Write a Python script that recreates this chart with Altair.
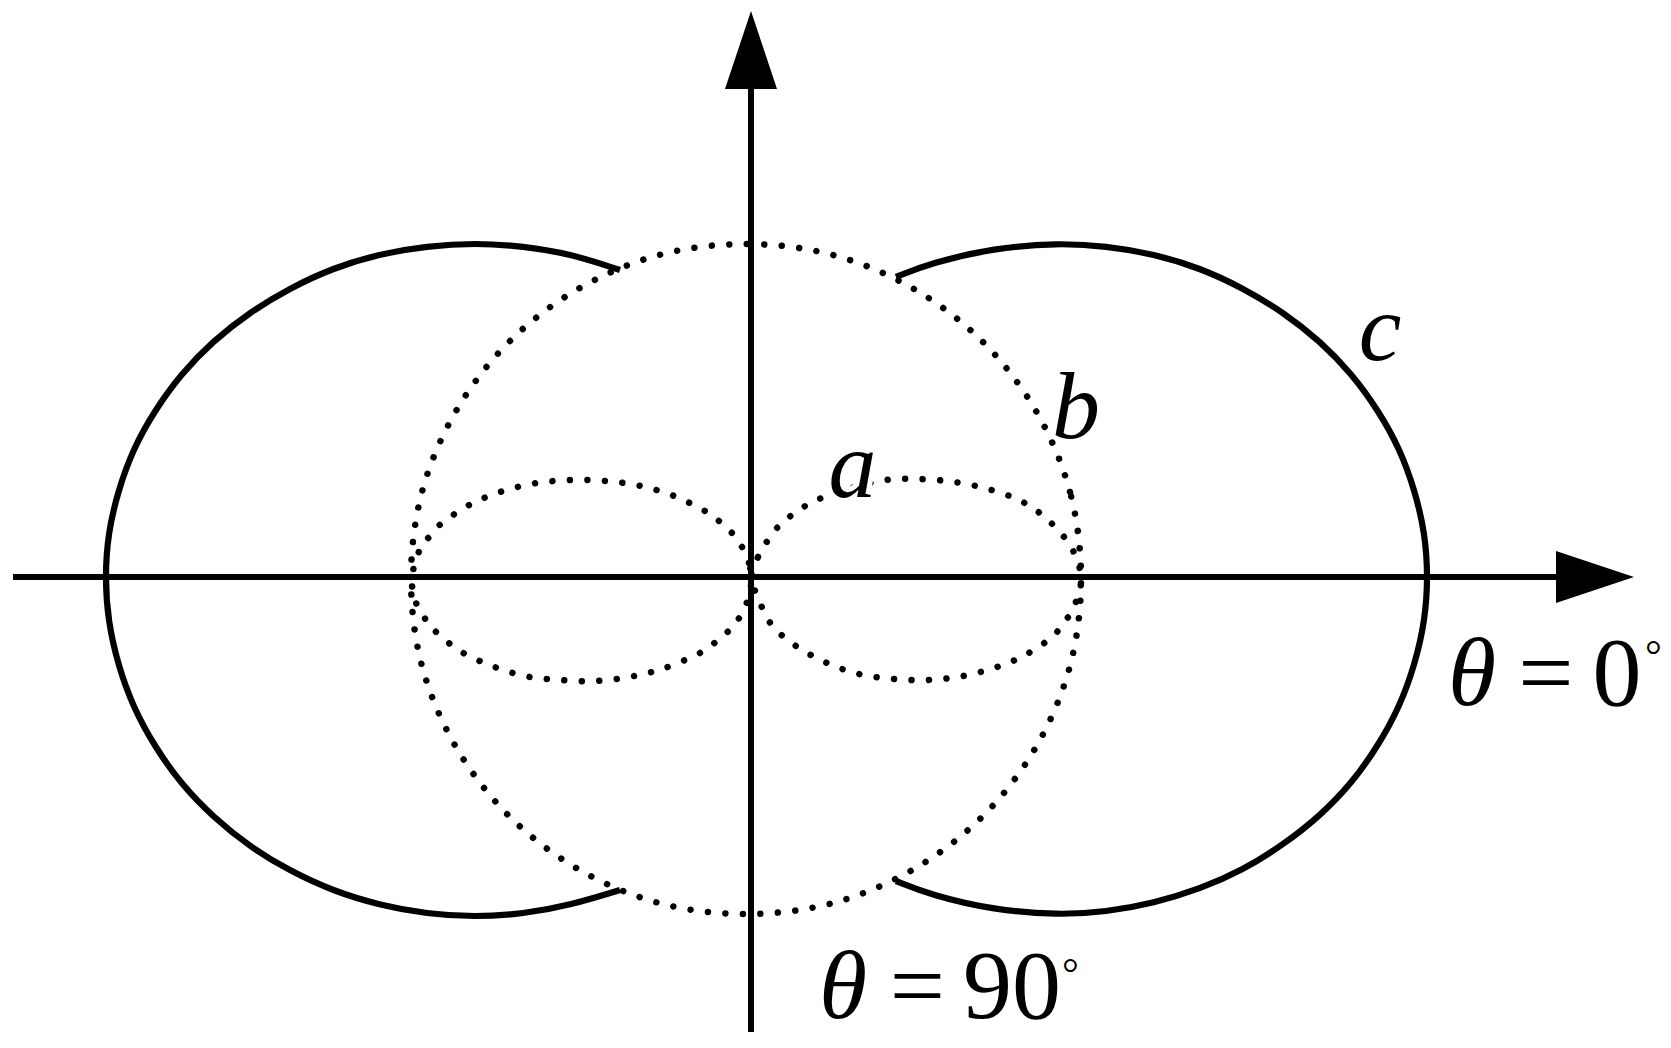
import altair as alt
import pandas as pd

# All coordinates: origin at the crossing of the two axes (pixel units of the figure)

# curve a : dotted figure-eight (two lobes)
a_left_x = [0, -2, -9, -19, -32, -46, -77, -110, -145, -179, -214, -248, -280, -309, -321, -331, -339,
            -336, -328, -318, -291, -259, -226, -192, -157, -122, -89, -57, -42, -28, -16, -7, -1]
a_left_y = [0, 14, 30, 44, 56, 66, 81, 91, 96, 97, 94, 86, 73, 54, 41, 28, 0,
            -23, -38, -52, -74, -89, -99, -103, -104, -100, -92, -79, -70, -59, -47, -32, -16]
a_right_x = [0, 7, 15, 25, 37, 51, 68, 100, 134, 168, 203, 237, 270, 297, 320, 330,
             324, 305, 276, 246, 212, 177, 143, 108, 76, 45, 20, 5]
a_right_y = [0, 20, 34, 48, 59, 69, 78, 89, 97, 98, 95, 88, 76, 57, 30, 0,
             -27, -56, -77, -90, -99, -103, -102, -97, -86, -69, -47, -16]

# curve b : dotted circle
b_x = [330, 319, 285, 232, 163, 82, -5, -92, -173, -242, -295, -329,
       -340, -329, -295, -242, -173, -92, -5, 82, 163, 232, 285, 319]
b_y = [-2, 85, 166, 235, 288, 322, 333, 322, 288, 235, 166, 85,
       -2, -89, -170, -239, -292, -326, -337, -326, -292, -239, -170, -89]

# curve c : solid lobes (outside the circle)
c_left_x = [-131, -180, -228, -276, -324, -372, -418, -461, -501, -538, -570, -596, -618, -633, -643, -646,
            -643, -633, -618, -596, -570, -538, -501, -461, -418, -372, -324, -276, -228, -180, -131]
c_left_y = [307, 323, 331, 334, 331, 323, 309, 289, 265, 236, 203, 167, 128, 86, 44, 0,
            -44, -88, -130, -170, -207, -240, -270, -294, -314, -328, -337, -340, -337, -328, -313]
c_right_x = [145, 180, 243, 307, 355, 403, 449, 492, 532, 569, 601, 627, 649, 664, 674, 677,
             674, 664, 649, 627, 601, 569, 532, 492, 449, 403, 355, 307, 243, 180, 145]
c_right_y = [300, 314, 329, 334, 331, 323, 309, 289, 265, 236, 203, 167, 128, 86, 44, 0,
             -44, -87, -129, -169, -206, -239, -268, -293, -312, -326, -335, -338, -333, -318, -304]

# axes
h_axis_x = [-738, 820]
v_axis_y = [-455, 500]
arrow_right_tip = (883, 0)
arrow_up_tip = (0, 566)

# labels
curve_labels = ["a", "b", "c"]
curve_label_x = [101.5, 325, 629]
curve_label_y = [80, 139, 217]

XS = alt.Scale(domain=[-743, 912], nice=False, zero=False)
YS = alt.Scale(domain=[-463, 569], nice=False, zero=False)


def enc(ch):
    return ch.encode(
        x=alt.X("x:Q", scale=XS, axis=None),
        y=alt.Y("y:Q", scale=YS, axis=None),
    )


def curve(xs, ys, dotted, interp, width=6):
    df = pd.DataFrame({"x": xs, "y": ys, "i": list(range(len(xs)))})
    kw = dict(interpolate=interp, color="black", strokeWidth=width)
    if dotted:
        kw.update(strokeDash=[0.01, 17.5], strokeCap="round")
    else:
        kw.update(strokeCap="butt", strokeJoin="round")
    return alt.Chart(df).mark_line(**kw).encode(
        x=alt.X("x:Q", scale=XS, axis=None),
        y=alt.Y("y:Q", scale=YS, axis=None),
        order="i:Q",
    )


layers = []
layers.append(curve(a_left_x, a_left_y, True, "cardinal-closed", 6.5))
layers.append(curve(a_right_x, a_right_y, True, "cardinal-closed", 6.5))
layers.append(curve(b_x, b_y, True, "cardinal-closed", 6.5))
layers.append(curve(c_left_x, c_left_y, False, "basis", 6.2))
layers.append(curve(c_right_x, c_right_y, False, "basis", 6.2))

# axes lines
layers.append(curve(h_axis_x, [0, 0], False, "linear"))
layers.append(curve([0, 0], v_axis_y, False, "linear"))

# arrow heads
arrow_r = pd.DataFrame({"x": [arrow_right_tip[0]], "y": [arrow_right_tip[1]]})
arrow_u = pd.DataFrame({"x": [arrow_up_tip[0]], "y": [arrow_up_tip[1]]})
layers.append(enc(alt.Chart(arrow_r).mark_point(
    shape="M 0 0 L -2 -0.667 L -2 0.667 Z", size=6084, filled=True, fill="black",
    stroke=None, opacity=1)))
layers.append(enc(alt.Chart(arrow_u).mark_point(
    shape="M 0 0 L -0.667 2 L 0.667 2 Z", size=6084, filled=True, fill="black",
    stroke=None, opacity=1)))

FONT = "Liberation Serif"

lab = pd.DataFrame({"text": curve_labels, "x": curve_label_x, "y": curve_label_y})
# white halo behind label a (hides the dots it covers)
layers.append(enc(alt.Chart(lab[lab.text == "a"]).mark_text(
    font=FONT, fontStyle="italic", fontSize=96, align="center", baseline="alphabetic",
    color="white", stroke="white", strokeWidth=10)).encode(text="text:N"))
layers.append(enc(alt.Chart(lab).mark_text(
    font=FONT, fontStyle="italic", fontSize=96, align="center", baseline="alphabetic",
    color="black")).encode(text="text:N"))

theta = pd.DataFrame({"text": ["θ", "θ"], "x": [721, 92], "y": [-128, -441]})
layers.append(enc(alt.Chart(theta).mark_text(
    font=FONT, fontStyle="italic", fontSize=98, align="center", baseline="alphabetic",
    color="black")).encode(text="text:N"))

upright = pd.DataFrame({"text": ["=", "0", "=", "90"],
                        "x": [795, 866, 166.5, 261], "y": [-128, -128, -441, -441]})
layers.append(enc(alt.Chart(upright).mark_text(
    font=FONT, fontSize=98, align="center", baseline="alphabetic",
    color="black")).encode(text="text:N"))

deg = pd.DataFrame({"text": ["°", "°"], "x": [902.5, 319.5], "y": [-91.5, -410]})
layers.append(enc(alt.Chart(deg).mark_text(
    font=FONT, fontSize=42, align="center", baseline="alphabetic",
    color="black")).encode(text="text:N"))

chart = alt.layer(*layers).properties(
    width=1655, height=1032, padding=0, autosize="none", background="white"
).configure_view(stroke=None)

chart.save("out.html", embed_options={"renderer": "svg", "actions": False})
